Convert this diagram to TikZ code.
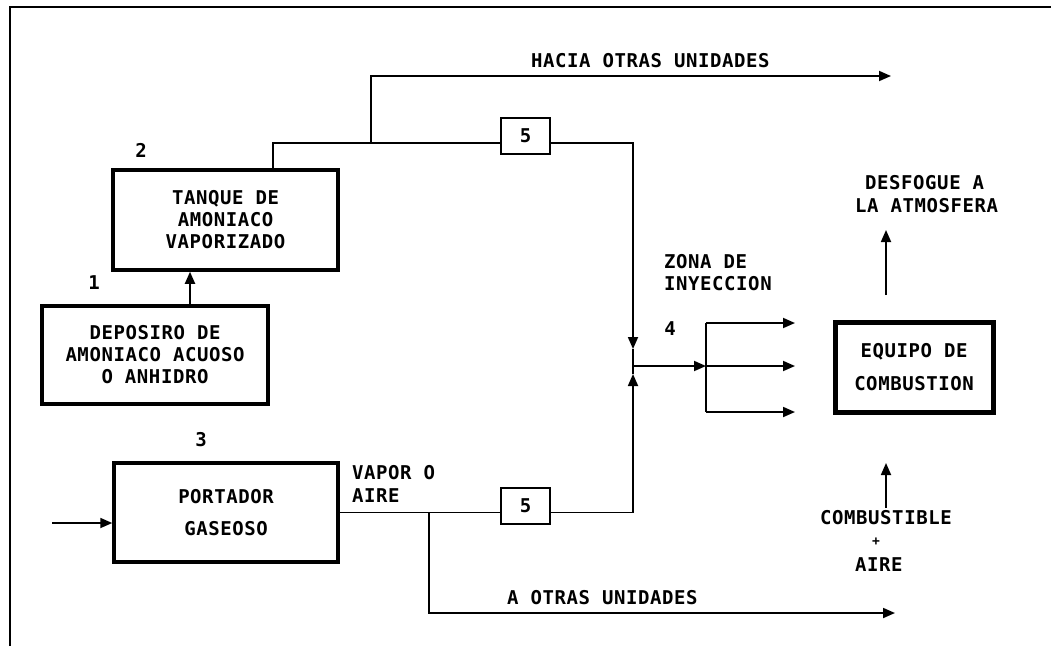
\documentclass[tikz,border=0pt]{standalone}
\usepackage{fontspec}
\newfontfamily\dosfont[LetterSpace=3]{DejaVu Sans Mono}
\usetikzlibrary{arrows.meta,calc}
\begin{document}
\begin{tikzpicture}[x=1pt,y=-1pt,
  txt/.style={font=\dosfont\bfseries\fontsize{19}{22}\selectfont, inner sep=0pt},
  lbl/.style={txt, anchor=west},
  box/.style={draw, line width=3.5pt, txt, align=center},
  vbox/.style={draw, line width=1.8pt, txt, minimum width=49pt, minimum height=36pt},
  ln/.style={line width=1.8pt},
  arr/.style={ln, -{Triangle[length=12pt,width=10pt]}}]
\useasboundingbox (0,0) rectangle (1051,646);
% frame
\coordinate (fl) at (10,646);
\coordinate (fc) at (10,7);
\coordinate (fr) at (1051,7);
\draw[line width=2.5pt] (fl) -- (fc) -- (fr);

% boxes
\node[box, minimum width=225pt, minimum height=100pt] (tanque) at (225.5,220) {TANQUE DE\\AMONIACO\\VAPORIZADO};
\node[box, minimum width=226pt, minimum height=98pt] (deposito) at (155,355) {DEPOSIRO DE\\AMONIACO ACUOSO\\O ANHIDRO};
\node[box, minimum width=224pt, minimum height=99pt] (portador) at (226,512.5) {PORTADOR\\[10pt]GASEOSO};
\node[box, line width=5pt, minimum width=158pt, minimum height=90pt] (equipo) at (914,367) {EQUIPO DE\\[11pt]COMBUSTION};
\node[vbox] (v1) at (525.5,136) {5};
\node[vbox] (v2) at (525.5,506) {5};

% labels
\node[txt] (n2) at (141,150) {2};
\node[txt] (n1) at (94,283) {1};
\node[txt] (n3) at (201,440) {3};
\node[txt] (n4) at (670,329) {4};
\node[lbl] (hacia) at (531,61) {HACIA OTRAS UNIDADES};
\node[lbl] (desf1) at (865,183) {DESFOGUE A};
\node[lbl] (desf2) at (855,206) {LA ATMOSFERA};
\node[lbl] (zona1) at (664,262) {ZONA DE};
\node[lbl] (zona2) at (664,284) {INYECCION};
\node[lbl] (vap1) at (352,473) {VAPOR O};
\node[lbl] (vap2) at (352,496) {AIRE};
\node[lbl] (aotras) at (507,598) {A OTRAS UNIDADES};
\node[lbl] (comb1) at (820,518) {COMBUSTIBLE};
\node[txt, font=\dosfont\bfseries\fontsize{13}{14}\selectfont] (comb2) at (876,542) {+};
\node[lbl] (comb3) at (855,565) {AIRE};

% coordinates
\coordinate (j1) at (273,143);
\coordinate (jb) at (371,143);
\coordinate (htip) at (891,76);
\coordinate (m) at (633,366);
\coordinate (jp) at (429,512.5);
\coordinate (atip) at (895,613);
\coordinate (b1) at (706,323);
\coordinate (b2) at (706,366);
\coordinate (b3) at (706,412);
\coordinate (t1) at (795,323);
\coordinate (t2) at (795,366);
\coordinate (t3) at (795,412);
\coordinate (dup0) at (886,295);
\coordinate (dup1) at (886,230);
\coordinate (cup0) at (886,508);
\coordinate (cup1) at (886,463);
\coordinate (in) at (52,523);
\coordinate (dx) at (190,0);

% connectors
\draw[arr] (dx |- deposito.north) -- (dx |- tanque.south);
\draw[ln] (j1 |- tanque.north) -- (j1) -- (j1 -| v1.west);
\draw[arr] (jb) |- (htip);
\draw[arr] (j1 -| v1.east) -| ($(m)+(0,-17)$);
\draw[ln] ($(m)+(0,-17)$) -- (m);
\draw[arr] (in) -- (in -| portador.west);
\draw[ln] (portador.east) -- (portador.east -| v2.west);
\draw[arr] (portador.east -| v2.east) -| ($(m)+(0,8)$);
\draw[ln] ($(m)+(0,8)$) -- (m);
\draw[arr] (jp) |- (atip);
\draw[arr] (m) -- (b2);
\draw[ln] (b1) -- (b3);
\draw[arr] (b1) -- (t1);
\draw[arr] (b2) -- (t2);
\draw[arr] (b3) -- (t3);
\draw[arr] (dup0) -- (dup1);
\draw[arr] (cup0) -- (cup1);
\end{tikzpicture}
\end{document}
